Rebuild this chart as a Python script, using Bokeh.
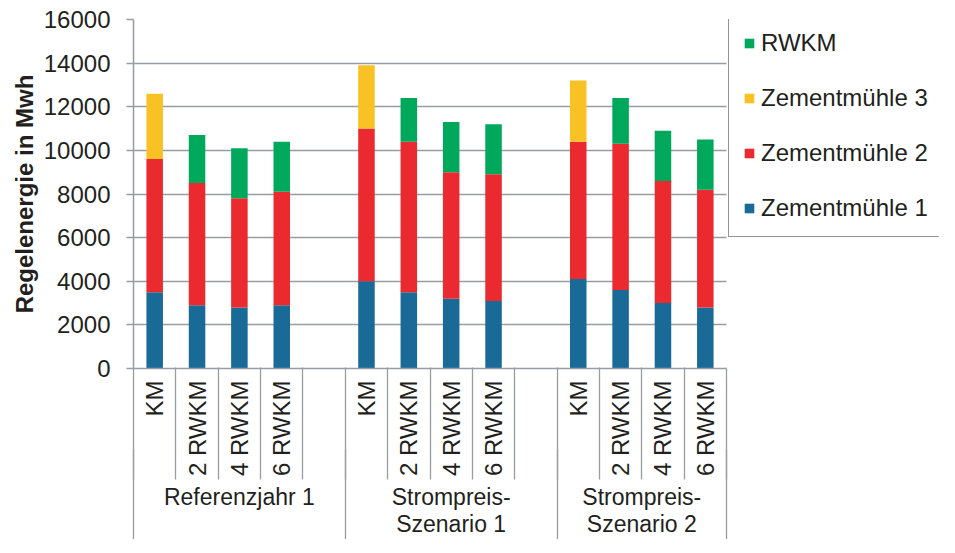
import math
from bokeh.plotting import figure
from bokeh.models import (Range1d, FixedTicker, LinearAxis, Legend, LegendItem,
                          ColumnDataSource, BoxAnnotation)
from bokeh.embed import file_html
from bokeh.resources import INLINE

# ---------------- data ----------------
groups = ["Referenzjahr 1", "Strompreis-\nSzenario 1", "Strompreis-\nSzenario 2"]
variants = ["KM", "2 RWKM", "4 RWKM", "6 RWKM"]
series_names = ["Zementmühle 1", "Zementmühle 2", "Zementmühle 3", "RWKM"]

zementmuehle_1 = [3500, 2900, 2800, 2900, 4000, 3500, 3200, 3100, 4100, 3600, 3000, 2800]
zementmuehle_2 = [6100, 5600, 5000, 5200, 7000, 6900, 5800, 5800, 6300, 6700, 5600, 5400]
zementmuehle_3 = [3000, 0, 0, 0, 2900, 0, 0, 0, 2800, 0, 0, 0]
rwkm = [0, 2200, 2300, 2300, 0, 2000, 2300, 2300, 0, 2100, 2300, 2300]

y_ticks = [0, 2000, 4000, 6000, 8000, 10000, 12000, 14000, 16000]
y_label = "Regelenergie in Mwh"

# ---------------- styling ----------------
colors = ["#1a6a98", "#eb2a2f", "#f8c224", "#00a85b"]
GRAY = "#999da2"
TEXT = "#231f20"
FONT = "Liberation Sans"
FS = "24px"

# ---------------- layout of slots ----------------
slots_per_group = len(variants) + 1
n_slots = len(groups) * slots_per_group - 1
xs, sub_labels = [], {}
group_centers, group_labels, group_bounds = [], {}, [0]
for g, gname in enumerate(groups):
    start = g * slots_per_group
    end = min(start + slots_per_group, n_slots)
    for i, v in enumerate(variants):
        c = start + i + 0.5
        xs.append(c)
        sub_labels[c] = v
    gc = (start + end) / 2
    group_centers.append(gc)
    group_labels[gc] = gname
    group_bounds.append(end)

source = ColumnDataSource(dict(x=xs, zm1=zementmuehle_1, zm2=zementmuehle_2,
                               zm3=zementmuehle_3, rwkm=rwkm))
keys = ["zm1", "zm2", "zm3", "rwkm"]

# plotting area (593 px) + area to its right that holds the legend (213 px)
PLOT_W, LEGEND_W, FRAME_H = 593, 213, 349
FRAME_W = PLOT_W + LEGEND_W
p = figure(frame_width=FRAME_W, frame_height=FRAME_H,
           x_range=Range1d(0, n_slots * FRAME_W / PLOT_W),
           y_range=Range1d(y_ticks[0], y_ticks[-1]),
           output_backend="svg", toolbar_location=None, x_axis_location=None,
           min_border_left=133, min_border_right=0, min_border_top=19,
           min_border_bottom=169)
p.outline_line_color = None
p.background_fill_color = "white"
p.border_fill_color = "white"

renderers = p.vbar_stack(keys, x="x", width=0.39, fill_color=colors,
                         line_color=None, source=source)

# y axis
p.yaxis.ticker = FixedTicker(ticks=y_ticks)
p.yaxis.axis_label = y_label
p.yaxis.axis_label_text_font = FONT
p.yaxis.axis_label_text_font_size = FS
p.yaxis.axis_label_text_font_style = "bold"
p.yaxis.axis_label_text_color = TEXT
p.yaxis.axis_label_standoff = 3
p.yaxis.major_label_text_font = FONT
p.yaxis.major_label_text_font_size = FS
p.yaxis.major_label_text_color = TEXT
p.yaxis.major_label_standoff = 16
p.yaxis.major_tick_out = 7
p.yaxis.major_tick_in = 0
p.yaxis.minor_tick_line_color = None
p.yaxis.axis_line_color = GRAY
p.yaxis.axis_line_width = 1.5
p.yaxis.major_tick_line_color = GRAY
p.yaxis.major_tick_line_width = 1.5

p.ygrid.ticker = FixedTicker(ticks=y_ticks)
p.ygrid.grid_line_color = GRAY
p.ygrid.grid_line_width = 1.5
p.xgrid.visible = False

# x axis 1: sub categories (labels only + axis line)
ax1 = LinearAxis(ticker=FixedTicker(ticks=xs, minor_ticks=[]), bounds=(0, n_slots),
                 major_label_overrides=sub_labels,
                 major_label_orientation=math.pi / 2,
                 major_tick_out=0, major_tick_in=0, major_label_standoff=12,
                 minor_tick_out=0, minor_tick_in=0,
                 minor_tick_line_color=None, major_tick_line_color=None,
                 axis_line_color=GRAY, axis_line_width=1.5,
                 major_label_text_font=FONT, major_label_text_font_size=FS,
                 major_label_text_color=TEXT)
p.add_layout(ax1, "below")

# x axis 2: group labels; its inward minor ticks draw the slot separators
ax2 = LinearAxis(ticker=FixedTicker(ticks=group_centers, minor_ticks=list(range(n_slots + 1))),
                 bounds=(0, n_slots),
                 major_label_overrides=group_labels,
                 major_tick_out=0, major_tick_in=0, major_label_standoff=4,
                 minor_tick_out=0, minor_tick_in=112,
                 minor_tick_line_color=GRAY, minor_tick_line_width=1.3,
                 major_tick_line_color=None, axis_line_color=None,
                 major_label_text_font=FONT, major_label_text_font_size="23px",
                 major_label_text_color=TEXT, major_label_text_line_height=1.05)
p.add_layout(ax2, "below")

# x axis 3: no labels; inward minor ticks draw the group separators
ax3 = LinearAxis(ticker=FixedTicker(ticks=[], minor_ticks=group_bounds),
                 bounds=(0, n_slots),
                 major_tick_out=0, major_tick_in=0, major_label_standoff=0,
                 minor_tick_out=0, minor_tick_in=90,
                 minor_tick_line_color=GRAY, minor_tick_line_width=1.3,
                 major_tick_line_color=None, axis_line_color=None,
                 major_label_text_font_size="0px")
p.add_layout(ax3, "below")

# white area to the right of the bars (grid lines stop at the last slot)
p.add_layout(BoxAnnotation(left=n_slots, fill_color="white", fill_alpha=1.0,
                           line_color=None))

# legend, in the area to the right of the bars
items = [LegendItem(label=series_names[k], renderers=[renderers[k]])
         for k in reversed(range(len(series_names)))]
legend = Legend(items=items, location=(PLOT_W + 2, 131), margin=0, padding=14,
                spacing=27, label_height=27, glyph_height=12, glyph_width=12,
                label_standoff=6, label_width=178,
                label_text_font=FONT, label_text_font_size=FS,
                label_text_color=TEXT,
                border_line_color="#2a2a2a", border_line_width=1.5,
                background_fill_color="white", background_fill_alpha=1.0)
p.add_layout(legend)

open("out.html", "w").write(file_html(p, INLINE))
